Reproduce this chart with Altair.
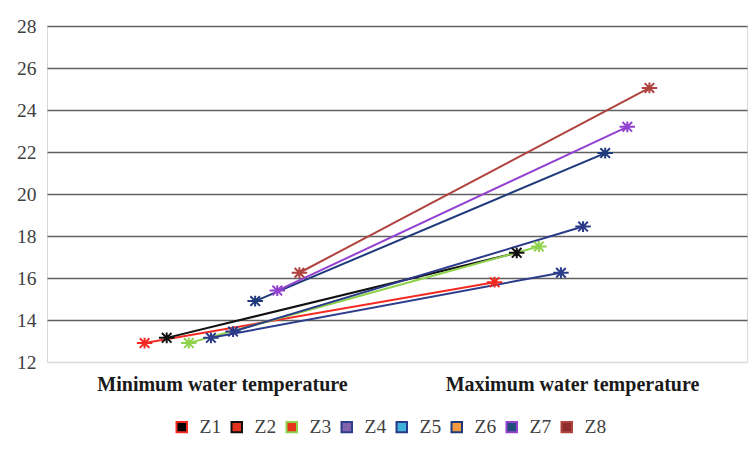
import altair as alt
import pandas as pd

categories = ["Minimum water temperature", "Maximum water temperature"]
series = ["Z1", "Z2", "Z3", "Z4", "Z5", "Z6", "Z7", "Z8"]
min_vals = [12.9, 13.15, 12.9, 13.15, 13.45, 14.9, 15.4, 16.25]
max_vals = [15.8, 17.2, 17.5, 16.25, 18.45, 21.95, 23.2, 25.05]
y_ticks = [12, 14, 16, 18, 20, 22, 24, 26, 28]

line_colors = ["#f42a22", "#111111", "#8fd24c", "#2c3d8c", "#2a3a88", "#1f3a7c", "#9241d0", "#b0433f"]
legend_fills = ["#000000", "#e2321e", "#e8321c", "#8262aa", "#3fb2da", "#f39a3e", "#1f4e7c", "#8e2b2b"]

rows = []
for i, s in enumerate(series):
    rows.append({"series": s, "s_idx": i, "cat_idx": 0, "category": categories[0], "value": min_vals[i]})
    rows.append({"series": s, "s_idx": i, "cat_idx": 1, "category": categories[1], "value": max_vals[i]})
df = pd.DataFrame(rows)

label_expr = f"datum.value < 1 ? '{categories[0]}' : '{categories[1]}'"

base = alt.Chart(df).transform_calculate(
    xpos="datum.cat_idx + 0.5 + (datum.s_idx - 3.5) * 0.0632"
)

serif = "Liberation Serif, Times New Roman, serif"

x_enc = alt.X(
    "xpos:Q",
    scale=alt.Scale(domain=[0, 2], nice=False, zero=False),
    axis=alt.Axis(
        values=[0.5, 1.5], labelExpr=label_expr, title=None, ticks=False, domain=False, grid=False,
        labelFont=serif, labelFontWeight="bold", labelFontSize=20, labelColor="#1a1a1a",
        labelPadding=12, labelLimit=500,
    ),
)
y_enc = alt.Y(
    "value:Q",
    scale=alt.Scale(domain=[12, 28], nice=False, zero=False),
    axis=alt.Axis(
        values=y_ticks, title=None, ticks=False, domain=False,
        labelFont=serif, labelFontSize=19.5, labelColor="#404040", labelPadding=11,
        gridColor={"condition": {"test": "datum.value === 12", "value": "#d9d9d9"}, "value": "#606060"},
        gridWidth=1.7,
    ),
)

leg = alt.Legend(
    title=None, orient="none", direction="horizontal", legendX=125, legendY=391,
    symbolType="square", symbolSize=110, symbolStrokeWidth=2, symbolOpacity=1,
    labelFont=serif, labelFontSize=19.5, labelColor="#404040",
    labelOffset=8, columnPadding=5, padding=0,
)

stroke_enc = alt.Stroke("series:N", scale=alt.Scale(domain=series, range=line_colors), legend=leg)

legend_layer = base.mark_square(filled=True, opacity=0, size=110, strokeWidth=2).encode(
    x=x_enc,
    y=y_enc,
    fill=alt.Fill("series:N", scale=alt.Scale(domain=series, range=legend_fills), legend=leg),
    stroke=stroke_enc,
)

lines = base.mark_line(strokeWidth=2).encode(
    x=x_enc,
    y=y_enc,
    stroke=stroke_enc,
    order="cat_idx:Q",
)

star = "M-1,0L1,0M0,-0.7L0,0.7M-0.62,-0.62L0.62,0.62M-0.62,0.62L0.62,-0.62"

points = base.mark_point(shape=star, size=240, strokeWidth=2, opacity=1, filled=False).encode(
    x=x_enc,
    y=y_enc,
    stroke=stroke_enc,
)

chart = alt.layer(legend_layer, lines, points).properties(
    width=700,
    height=336,
    autosize=alt.AutoSizeParams(type="none"),
    padding={"left": 47, "top": 26, "right": 1, "bottom": 92},
    background="white",
).configure_view(stroke="#d9d9d9", strokeWidth=1)

chart.save("out.html", embed_options={"renderer": "svg", "actions": False})
